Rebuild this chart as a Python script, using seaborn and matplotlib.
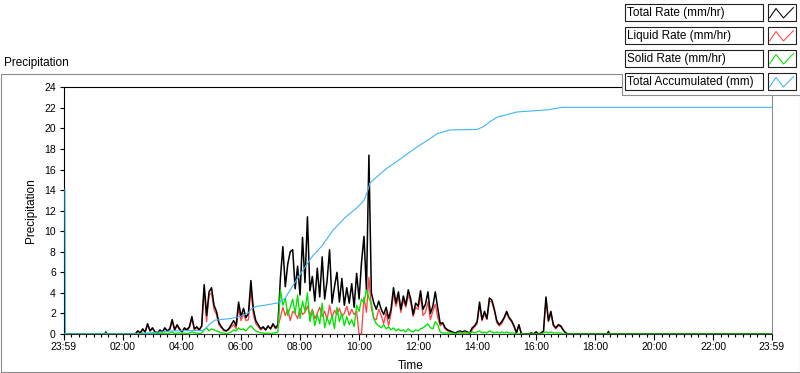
import numpy as np
import pandas as pd
import matplotlib
matplotlib.use("Agg")
import matplotlib.pyplot as plt
from matplotlib.patches import Rectangle
from matplotlib.lines import Line2D
import seaborn as sns

# ─── Data (minutes of the day, 23:59 of the previous day = -1) ────────────
# quiet stretches around the active period
pre_t = [-1, 83, 85, 87, 145]
pre_total = [0, 0, 0.2, 0, 0]
pre_liquid = [0, 0, 0.1, 0, 0]
pre_solid = [0, 0, 0.1, 0, 0]

post_t = [1045, 1105, 1107, 1109, 1439]
post_total = [0, 0, 0.25, 0, 0]
post_liquid = [0, 0, 0.2, 0, 0]
post_solid = [0, 0, 0.05, 0, 0]

# active period, one reading every 5 min from 02:30
ACTIVE_START = 150
STEP = 5

total_rate = [
    0.3, 0.1, 0.5, 0.2, 1.0, 0.3, 0.6, 0.2, 0.1, 0.4,
    0.2, 0.6, 0.3, 0.5, 1.4, 0.4, 0.9, 0.5, 0.2, 0.6,
    0.4, 0.7, 1.7, 0.5, 0.7, 0.4, 0.8,
    4.8, 1.8, 4.1, 4.5, 2.8, 2.2, 1.1, 0.7, 0.4, 0.3,
    0.5, 0.9, 1.3, 0.8, 3.1, 1.7, 2.5, 1.6, 2.0, 5.2,
    2.4, 1.3, 0.9, 0.5, 0.7, 0.4, 0.8, 0.5, 1.0, 0.6, 0.9,
    5.4, 8.5, 4.6, 6.8, 8.0, 8.2, 4.4, 6.6, 3.8, 9.4,
    5.0, 11.4, 4.2, 5.6, 3.2, 6.4, 3.6, 7.5, 3.4, 5.2,
    8.2, 3.0, 4.6, 6.0, 3.1, 5.4, 2.8, 4.5, 3.0, 4.9,
    2.6, 5.9, 3.4, 7.0, 9.5, 4.2, 17.4, 4.0,
    3.0, 2.4, 3.2, 2.4, 1.9, 2.6, 1.5, 2.4, 4.5, 3.0,
    4.1, 2.4, 3.7, 2.8, 4.3, 3.4, 1.9, 3.0, 2.7, 4.2,
    2.4, 2.9, 4.1, 2.0, 2.7, 4.1, 2.5, 1.0, 1.1, 0.6, 0.4,
    0.3, 0.2, 0.1, 0.2, 0.3, 0.2, 0.3, 0.2, 0.1, 0.6,
    0.8, 1.2, 3.1, 1.4, 2.2, 1.5, 3.5, 3.3, 2.4, 1.3,
    0.9, 1.2, 1.6, 2.2, 1.6, 1.3, 0.8, 0.1, 0.9, 0.0,
    0.0, 0.0, 0.0, 0.1, 0.0, 0.2, 0.0, 0.1, 0.3, 3.6,
    1.3, 2.2, 0.9, 0.6, 0.9, 0.8, 0.4, 0.1, 0.0, 0.0, 0.0, 0.0,
]

liquid_rate = [
    0.3, 0.1, 0.4, 0.2, 0.9, 0.3, 0.5, 0.2, 0.1, 0.3,
    0.2, 0.5, 0.3, 0.4, 1.2, 0.4, 0.8, 0.4, 0.2, 0.5,
    0.4, 0.6, 1.5, 0.4, 0.6, 0.4, 0.7,
    4.4, 1.2, 3.8, 4.0, 2.4, 1.9, 0.9, 0.6, 0.3, 0.3,
    0.4, 0.7, 0.9, 0.5, 2.5, 1.3, 2.0, 1.3, 1.4, 4.4,
    1.9, 1.0, 0.7, 0.4, 0.6, 0.4, 0.7, 0.5, 0.9, 0.5, 0.7,
    1.6, 2.6, 1.8, 2.4, 1.3, 2.2, 2.0, 1.5, 2.5, 1.9,
    2.1, 2.7, 1.8, 2.4, 1.5, 2.0, 2.6, 1.7, 2.2, 1.4,
    2.8, 1.6, 2.3, 1.9, 2.5, 1.7, 2.0, 2.7, 1.8, 2.4,
    1.9, 2.2, 0.0, 0.0, 3.6, 2.1, 5.5, 2.5,
    1.5, 1.4, 2.4, 1.8, 1.0, 2.1, 0.8, 2.0, 3.9, 2.7,
    3.6, 2.1, 3.3, 2.6, 3.8, 3.1, 1.7, 2.6, 2.4, 3.7,
    1.8, 2.1, 3.1, 1.4, 2.2, 2.9, 1.6, 0.8, 1.0, 0.5, 0.3,
    0.2, 0.1, 0.1, 0.1, 0.1, 0.1, 0.1, 0.1, 0.0, 0.4,
    0.7, 1.0, 2.8, 1.3, 2.0, 1.4, 3.2, 3.1, 2.3, 1.1,
    0.8, 1.0, 1.5, 2.0, 1.5, 1.2, 0.7, 0.1, 0.9, 0.0,
    0.0, 0.0, 0.0, 0.1, 0.0, 0.2, 0.0, 0.1, 0.2, 3.4,
    1.2, 2.0, 0.8, 0.5, 0.8, 0.7, 0.4, 0.1, 0.0, 0.0, 0.0, 0.0,
]

solid_rate = [
    0.0, 0.0, 0.1, 0.0, 0.1, 0.0, 0.1, 0.0, 0.0, 0.1,
    0.0, 0.1, 0.0, 0.1, 0.2, 0.0, 0.1, 0.1, 0.0, 0.1,
    0.0, 0.1, 0.2, 0.1, 0.1, 0.0, 0.1,
    0.4, 0.6, 0.3, 0.5, 0.4, 0.3, 0.2, 0.1, 0.1, 0.0,
    0.1, 0.2, 0.4, 0.3, 0.6, 0.4, 0.5, 0.3, 0.6, 0.8,
    0.5, 0.3, 0.2, 0.1, 0.1, 0.0, 0.1, 0.0, 0.1, 0.1, 0.2,
    4.3, 2.8, 3.5, 1.8, 2.6, 3.4, 2.0, 3.8, 1.5, 3.2,
    2.2, 4.0, 1.2, 2.3, 0.8, 1.9, 1.0, 3.0, 0.6, 1.6,
    0.9, 1.8, 0.5, 2.6, 1.2, 2.0, 0.8, 1.7, 0.9, 1.4,
    0.7, 2.8, 2.2, 3.4, 3.0, 4.3, 3.5, 3.0,
    1.5, 1.0, 0.8, 0.6, 0.9, 0.5, 0.7, 0.4, 0.6, 0.3,
    0.5, 0.3, 0.4, 0.2, 0.5, 0.3, 0.2, 0.4, 0.3, 0.5,
    0.6, 0.8, 1.0, 0.6, 0.5, 1.2, 0.9, 0.2, 0.1, 0.1, 0.1,
    0.1, 0.1, 0.0, 0.1, 0.2, 0.1, 0.2, 0.1, 0.1, 0.2,
    0.1, 0.2, 0.3, 0.1, 0.2, 0.1, 0.3, 0.2, 0.1, 0.2,
    0.1, 0.2, 0.1, 0.2, 0.1, 0.1, 0.1, 0.0, 0.0, 0.0,
    0.0, 0.0, 0.0, 0.0, 0.0, 0.0, 0.0, 0.0, 0.1, 0.2,
    0.1, 0.2, 0.1, 0.1, 0.1, 0.1, 0.0, 0.0, 0.0, 0.0, 0.0, 0.0,
]

# total accumulated (mm), read at the bends of the curve
accum_t = [2, 3, 155, 175, 195, 222, 283, 291, 297, 307,
           338, 358, 374, 382, 393, 409, 437, 450, 464, 480,
           504, 525, 547, 571, 596, 610, 618, 622, 639, 656,
           683, 718, 744, 759, 785, 840, 854, 866, 881, 921,
           982, 1013, 1439]
accum_v = [14.1, 0.0, 0.0, 0.1, 0.2, 0.3, 0.35, 0.7, 1.0, 1.35,
           1.5, 1.7, 2.0, 2.5, 2.7, 2.8, 3.05, 3.5, 4.6, 5.8,
           7.5, 8.6, 10.1, 11.3, 12.3, 13.0, 14.0, 14.7, 15.4, 16.1,
           17.0, 18.2, 19.0, 19.5, 19.85, 19.9, 20.2, 20.65, 21.1, 21.6,
           21.8, 22.05, 22.05]

tick_minutes = [-1, 120, 240, 360, 480, 600, 720, 840, 960, 1080, 1200, 1320, 1439]
tick_labels = ["23:59", "02:00", "04:00", "06:00", "08:00", "10:00", "12:00",
               "14:00", "16:00", "18:00", "20:00", "22:00", "23:59"]

legend_labels = ["Total Rate (mm/hr)", "Liquid Rate (mm/hr)",
                 "Solid Rate (mm/hr)", "Total Accumulated (mm)"]

C_TOTAL, C_LIQUID, C_SOLID, C_ACCUM = "#000000", "#ff4646", "#00e400", "#3fb5f2"
C_FRAME = "#8c8c8c"

# ─── Assemble series ──────────────────────────────────────────────────────
active_t = list(ACTIVE_START + STEP * np.arange(len(total_rate)))
t_all = pre_t + active_t + post_t
rates = pd.DataFrame({
    "minute": t_all,
    "total": pre_total + total_rate + post_total,
    "liquid": pre_liquid + liquid_rate + post_liquid,
    "solid": pre_solid + solid_rate + post_solid,
})
accum = pd.DataFrame({"minute": accum_t, "value": accum_v})

# ─── Figure ───────────────────────────────────────────────────────────────
sns.set_style("white")
plt.rcParams["font.family"] = ["Liberation Sans", "DejaVu Sans"]
plt.rcParams["text.color"] = "black"

W, H = 800, 373
fig = plt.figure(figsize=(W / 100, H / 100), dpi=100)
ax = fig.add_axes([63.5 / W, 1 - 334 / H, (771.7 - 63.5) / W, (334 - 87.3) / H])

sns.lineplot(data=rates, x="minute", y="liquid", ax=ax, color=C_LIQUID, lw=0.95,
             estimator=None, sort=False, zorder=2)
sns.lineplot(data=rates, x="minute", y="total", ax=ax, color=C_TOTAL, lw=1.1,
             estimator=None, sort=False, zorder=3)
sns.lineplot(data=rates, x="minute", y="solid", ax=ax, color=C_SOLID, lw=0.95,
             estimator=None, sort=False, zorder=4)
sns.lineplot(data=accum, x="minute", y="value", ax=ax, color=C_ACCUM, lw=0.8,
             estimator=None, sort=False, zorder=5)

ax.set_xlim(-1, 1439)
ax.set_ylim(0, 24)
ax.set_yticks(range(0, 25, 2))
ax.set_xticks(tick_minutes, tick_labels)
ax.set_xticks(np.arange(0, 1440, 15), minor=True)
ax.tick_params(axis="x", which="major", bottom=True, length=4, width=0.8,
               pad=1.5, labelsize=7.5, color="black", labelcolor="black")
ax.tick_params(axis="x", which="minor", bottom=True, length=2.4, width=0.8,
               color="black")
ax.tick_params(axis="y", left=True, length=3, width=0.8, pad=2.5,
               labelsize=7.5, color="black", labelcolor="black")
ax.grid(False)

for side, col in [("top", "black"), ("left", "black"),
                  ("bottom", "#303030"), ("right", C_FRAME)]:
    ax.spines[side].set_visible(True)
    ax.spines[side].set_color(col)
    ax.spines[side].set_linewidth(0.8)

ax.set_xlabel("Time", fontsize=8.5, color="black")
ax.xaxis.set_label_coords((411 - 63.5) / 708.2, (334 - 366) / 246.7)
ax.xaxis.label.set_va("center")
ax.set_ylabel("Precipitation", fontsize=8.5, color="black")
ax.yaxis.set_label_coords((31 - 63.5) / 708.2, 0.5)
ax.yaxis.label.set_va("center")


# ─── Panel frame, caption and legend (pixel positions, top-left origin) ───
def fline(xs, ys, color=C_FRAME, lw=0.8, z=3):
    fig.add_artist(Line2D([x / W for x in xs], [1 - y / H for y in ys],
                          color=color, lw=lw, transform=fig.transFigure, zorder=z))


def frect(x, y, w, h, edge, face="white", z=2):
    fig.add_artist(Rectangle((x / W, 1 - (y + h) / H), w / W, h / H,
                             transform=fig.transFigure, facecolor=face,
                             edgecolor=edge, lw=0.8, zorder=z))


fline([0.5, 621.5], [73.5, 73.5])
fline([0.5, 0.5], [73.5, 372])
fline([0.5, 799.5], [372, 372])
fline([799.5, 799.5], [0, 372])

# white legend panel covers the corner of the frame and axes
frect(621.5, 0, 177.5, 94.5, edge="none")
fline([621.5, 621.5], [73.5, 95])
fline([621.5, 799.5], [95, 95])

fig.text(4 / W, 1 - 63 / H, "Precipitation", fontsize=8.5, va="center", ha="left")

for k, (label, col) in enumerate(zip(legend_labels, [C_TOTAL, C_LIQUID, C_SOLID, C_ACCUM])):
    top = 4.5 + 23 * k
    frect(624.5, top, 138, 16.5, edge="#202020", z=4)
    frect(767.5, top, 28, 16.5, edge="#202020", z=4)
    fig.text(627 / W, 1 - (top + 8.6) / H, label, fontsize=8.5, va="center",
             ha="left", zorder=5)
    fline([769.5, 776, 783.5, 793.5],
          [top + 13.5, top + 4, top + 13.5, top + 3], color=col, lw=0.75, z=5)

fig.savefig("out.png", dpi=100)
